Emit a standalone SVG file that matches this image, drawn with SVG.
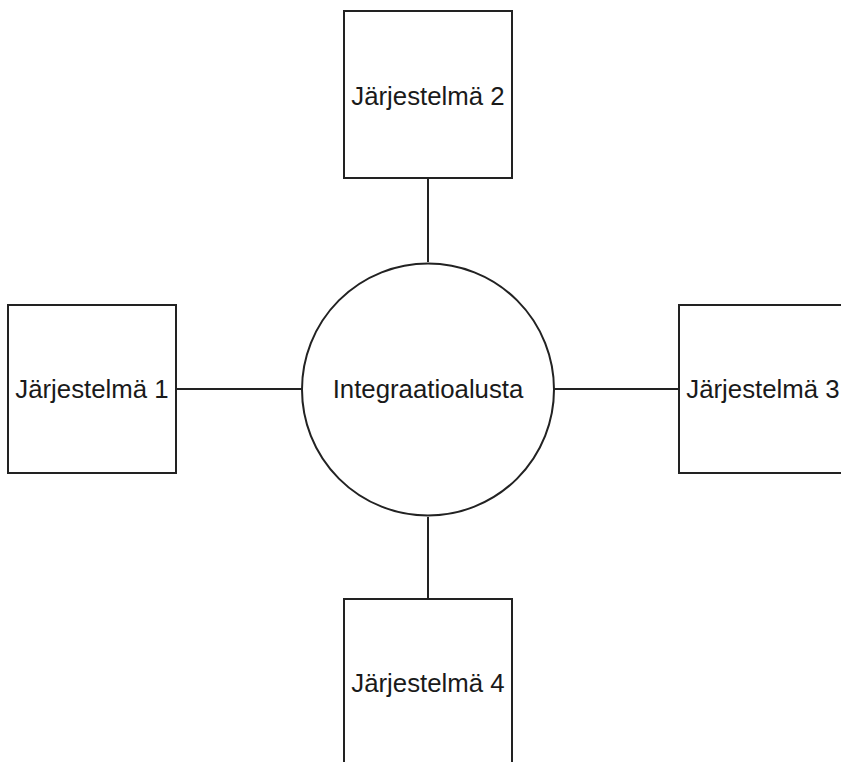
<svg xmlns="http://www.w3.org/2000/svg" width="841" height="762" viewBox="0 0 841 762">
<style>
.n{fill:#fff;stroke:#222;stroke-width:2}
.c{stroke:#222;stroke-width:2;fill:none}
.t{font-family:"Liberation Sans",Arial,sans-serif;font-size:25.8px;fill:#1a1a1a;text-anchor:middle}
</style>
<rect width="841" height="762" fill="#fff"/>
<g id="connectors">
<line class="c" x1="428" y1="178" x2="428" y2="262"/>
<line class="c" x1="176" y1="389" x2="302" y2="389"/>
<line class="c" x1="554" y1="389" x2="679" y2="389"/>
<line class="c" x1="428" y1="517" x2="428" y2="599"/>
</g>
<g id="center">
<circle class="n" cx="428" cy="389.5" r="126"/>
<text class="t" x="428" y="398">Integraatioalusta</text>
</g>
<g id="sys2">
<rect class="n" x="344" y="11" width="168" height="167"/>
<text class="t" x="428" y="105">Järjestelmä 2</text>
</g>
<g id="sys1">
<rect class="n" x="8" y="305" width="168" height="168"/>
<text class="t" x="92" y="398">Järjestelmä 1</text>
</g>
<g id="sys3">
<rect class="n" x="679" y="305" width="168" height="168"/>
<text class="t" x="763" y="398">Järjestelmä 3</text>
</g>
<g id="sys4">
<rect class="n" x="344" y="599" width="168" height="168"/>
<text class="t" x="428" y="692">Järjestelmä 4</text>
</g>
</svg>
